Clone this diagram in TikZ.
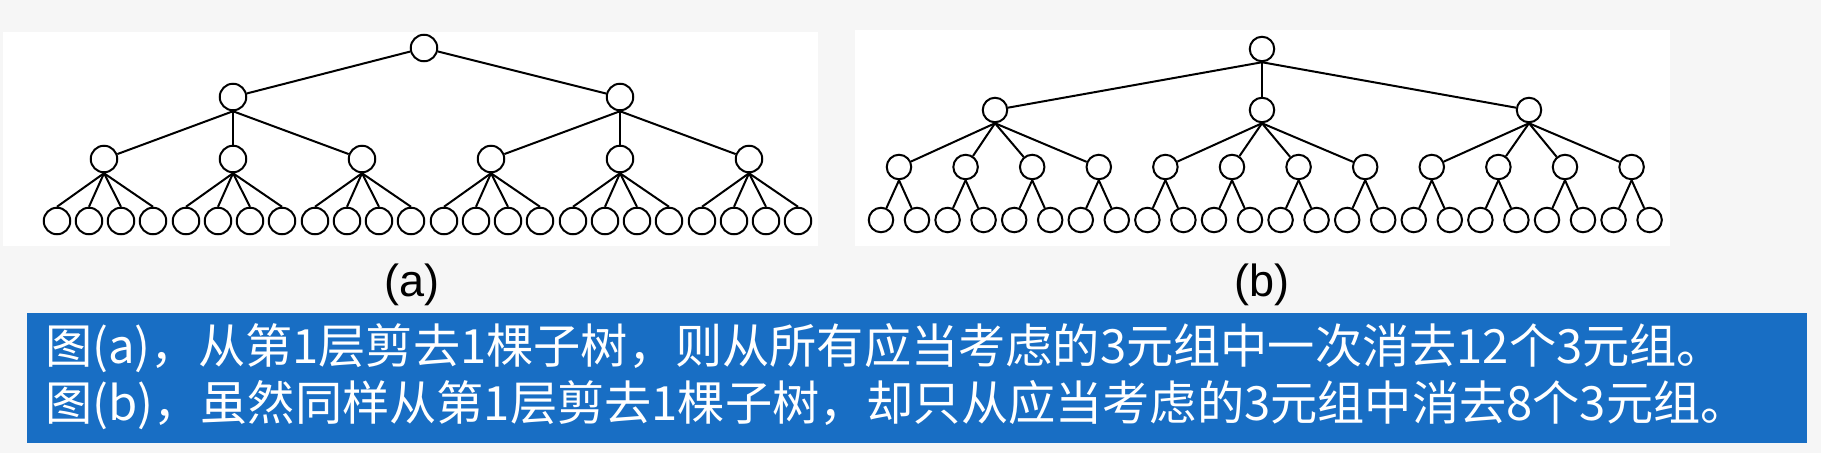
\documentclass[tikz,border=0pt]{standalone}
\usepackage{fontspec}
\setmainfont{Liberation Sans}
\newfontfamily\cjk{Noto Sans CJK SC}
\definecolor{boxblue}{RGB}{24,110,196}
\definecolor{bggray}{RGB}{246,246,246}
\begin{document}
\begin{tikzpicture}[x=1pt,y=-1pt,
  na/.style={circle,draw=black,line width=2pt,minimum size=26.5pt,inner sep=0pt,fill=white},
  nb/.style={circle,draw=black,line width=2pt,minimum size=24.5pt,inner sep=0pt,fill=white},
  edge/.style={line width=2pt,black},
  lbl/.style={inner sep=0pt,font=\fontsize{45}{54}\selectfont},
  txt/.style={anchor=west,inner sep=0pt,text=white,font=\cjk\fontsize{47.2}{57}\selectfont}]
\useasboundingbox (0,0) rectangle (1821,453);
\fill[bggray] (0,0) rectangle (1821,453);
\fill[white] (3,32) rectangle (818,246);
\fill[white] (855,30) rectangle (1670,246);
% ---------- tree (a)
\node[na] (ar) at (424,48) {};
\node[na] (a1) at (233,97) {};
\node[na] (a2) at (620,97) {};
\foreach \i in {1,2}{
  \foreach \j in {1,2,3}{
    \pgfmathsetmacro\xx{104+129*((\i-1)*3+\j-1)}
    \node[na] (a\i\j) at (\xx,159) {};
    \foreach \k in {1,...,4}{
      \pgfmathsetmacro\xl{\xx+(\k-2.5)*32+1}
      \node[na] (a\i\j\k) at (\xl,221) {};
    }
  }
}
\foreach \i in {1,2}{
  \draw[edge] (ar) -- (a\i);
  \foreach \j in {1,2,3}{
    \draw[edge] (a\i.south) -- (a\i\j);
    \foreach \k in {1,...,4}{
      \draw[edge] (a\i\j.south) -- (a\i\j\k.north);
    }
  }
}
% ---------- tree (b)
\node[nb] (br) at (1262,49) {};
\foreach \i in {1,2,3}{
  \pgfmathsetmacro\xp{995+267*(\i-1)}
  \node[nb] (b\i) at (\xp,110) {};
  \foreach \j in {1,...,4}{
    \pgfmathsetmacro\xx{899+66.6*((\i-1)*4+\j-1)}
    \node[nb] (b\i\j) at (\xx,167) {};
    \node[nb] (b\i\j1) at (\xx-18,220) {};
    \node[nb] (b\i\j2) at (\xx+18,220) {};
  }
}
\foreach \i in {1,2,3}{
  \draw[edge] (br.south) -- (b\i);
  \foreach \j in {1,...,4}{
    \draw[edge] (b\i.south) -- (b\i\j);
    \draw[edge] (b\i\j.south) -- (b\i\j1);
    \draw[edge] (b\i\j.south) -- (b\i\j2);
  }
}
% ---------- labels
\node[lbl] (la) at (412,285) {(a)};
\node[lbl] (lb) at (1262,285) {(b)};
% ---------- caption box
\fill[boxblue] (27,313) rectangle (1807,443);
\node[txt] (t1) at (45,348) {图(a)，从第1层剪去1棵子树，则从所有应当考虑的3元组中一次消去12个3元组。};
\node[txt] (t2) at (45,405) {图(b)，虽然同样从第1层剪去1棵子树，却只从应当考虑的3元组中消去8个3元组。};
\end{tikzpicture}
\end{document}
